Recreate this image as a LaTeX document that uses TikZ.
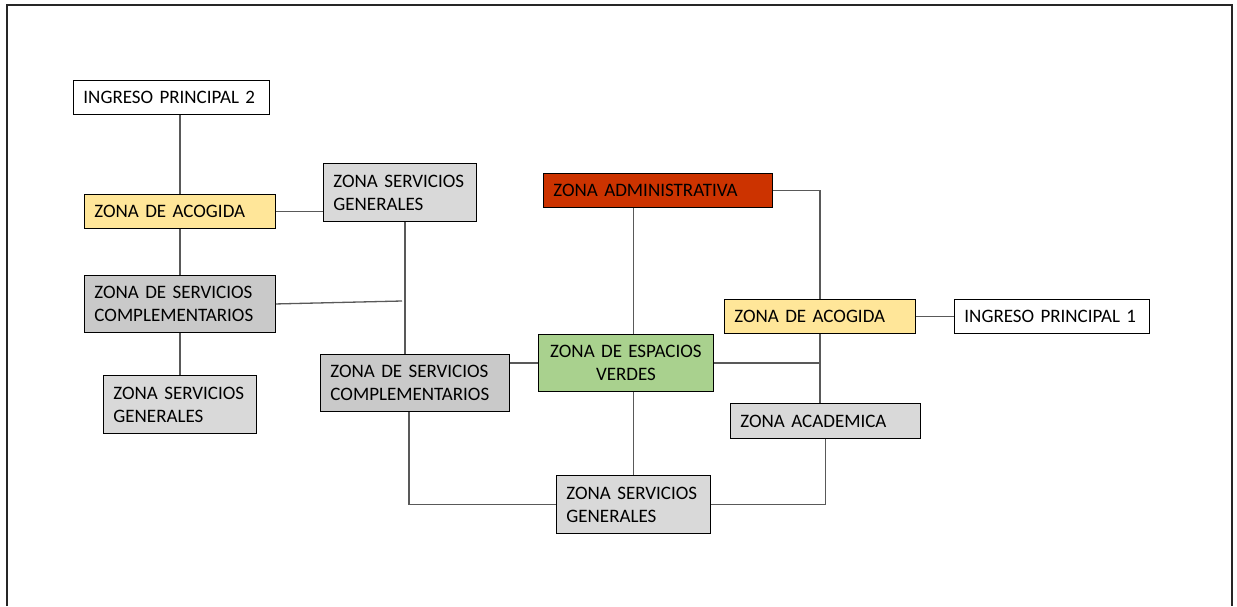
\documentclass[tikz,border=0pt]{standalone}
\usepackage{fontspec}
\setmainfont{Carlito}
\usetikzlibrary{positioning}
\definecolor{acogida}{HTML}{FFE699}
\definecolor{generales}{HTML}{D9D9D9}
\definecolor{complem}{HTML}{C9C9C9}
\definecolor{admin}{HTML}{CC3300}
\definecolor{verdes}{HTML}{A9D18E}
\definecolor{linea}{HTML}{595959}
\tikzstyle{zone} = [
    rectangle,
    draw=black,
    line width=0.9pt,
    anchor=north west,
    align=left,
    inner xsep=10pt,
    inner ysep=0pt,
    font=\fontsize{19}{23}\selectfont
]
\tikzstyle{white_zone} = [zone, fill=white, minimum height=34pt]
\tikzstyle{yellow_zone} = [zone, fill=acogida, minimum height=34pt]
\tikzstyle{gray_zone} = [zone, fill=generales, minimum height=58pt]
\tikzstyle{dark_zone} = [zone, fill=complem, minimum height=57pt]
\tikzstyle{link} = [draw=linea, line width=1.3pt]
\begin{document}
\begin{tikzpicture}[x=1pt, y=-1pt]
\useasboundingbox (0,0) rectangle (1237,606);
\draw[line width=1.5pt, black!85] (7,606) -- (7,5) -- (1232,5) -- (1232,606);

% left side
\node [white_zone, text width=176pt] (ip2) at (73,80) {INGRESO PRINCIPAL 2};
\node [yellow_zone, text width=171pt] (za1) at (84,194) {ZONA DE ACOGIDA};
\node [gray_zone, text width=133pt] (zsg1) at (323,163) {ZONA SERVICIOS\\GENERALES};
\node [dark_zone, text width=171pt] (zsc1) at (84,275) {ZONA DE SERVICIOS\\COMPLEMENTARIOS};
\node [gray_zone, text width=133pt] (zsg2) at (103,375) {ZONA SERVICIOS\\GENERALES};
\node [dark_zone, text width=169pt] (zsc2) at (320,354) {ZONA DE SERVICIOS\\COMPLEMENTARIOS};

% right side
\node [zone, fill=admin, minimum height=34pt, text width=209pt] (zadm) at (543,173) {ZONA ADMINISTRATIVA};
\node [zone, fill=verdes, minimum height=57pt, text width=155pt, align=center] (zev) at (538,334) {ZONA DE ESPACIOS\\VERDES};
\node [yellow_zone, text width=171pt] (za2) at (724,299) {ZONA DE ACOGIDA};
\node [white_zone, text width=175pt] (ip1) at (954,299) {INGRESO PRINCIPAL 1};
\node [zone, fill=generales, minimum height=35pt, text width=170pt] (zacad) at (730,403) {ZONA ACADEMICA};
\node [gray_zone, text width=134pt] (zsg3) at (556,475) {ZONA SERVICIOS\\GENERALES};

\coordinate (j1) at (402,301);

\draw [link] (za1.north |- ip2.south) -- (za1.north);
\draw [link] (za1.south) -- (zsc1.north);
\draw [link] (za1.east) -- (za1.east -| zsg1.west);
\draw [link] (zsc1.south) -- (zsg2.north);
\draw [link] (zsc1.east) -- (j1);
\draw [link] ([xshift=5pt]zsg1.south) -- ([xshift=5pt]zsg1.south |- zsc2.north);
\draw [link] (zev.west) -- (zev.west -| zsc2.east);
\draw [link] ([xshift=-6pt]zsc2.south) |- (zsg3.west);
\draw [link] (zsg3.north |- zadm.south) -- (zsg3.north |- zev.north);
\draw [link] (zsg3.north |- zev.south) -- (zsg3.north);
\draw [link] (zadm.east) -| (za2.north);
\draw [link] (za2.south) -- (za2.south |- zacad.north);
\draw [link] (zev.east) -- (za2.south |- zev.east);
\draw [link] (za2.east) -- (ip1.west);
\draw [link] (zacad.south) |- (zsg3.east);
\end{tikzpicture}
\end{document}
